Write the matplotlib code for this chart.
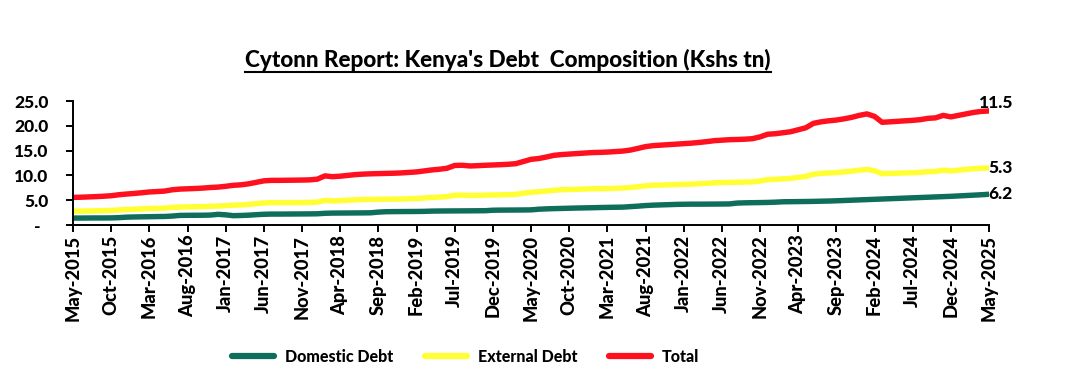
import matplotlib
matplotlib.use("Agg")
import matplotlib.pyplot as plt
from matplotlib.lines import Line2D
import numpy as np
import pandas as pd

# ---- data (Kshs tn), monthly May-2015 .. May-2025 ----
months = pd.date_range("2015-05-01", "2025-05-01", freq="MS")
tick_labels = [d.strftime("%b-%Y") for d in months[::5]]

domestic = [1.40, 1.40, 1.41, 1.42, 1.42, 1.43, 1.48,
            1.58, 1.62, 1.65, 1.67, 1.70, 1.72, 1.80,
            1.93, 1.95, 1.96, 1.97, 2.00,
            2.15, 2.05, 1.88, 1.92, 1.98,
            2.08, 2.16, 2.20, 2.20, 2.21, 2.22, 2.23, 2.24, 2.26,
            2.36, 2.40, 2.41, 2.42, 2.43, 2.44, 2.46,
            2.60, 2.68, 2.70, 2.71, 2.72, 2.73, 2.75,
            2.80, 2.82, 2.83, 2.84, 2.85, 2.86, 2.87, 2.88,
            2.98, 3.00, 3.01, 3.02, 3.03, 3.05,
            3.18, 3.25, 3.30, 3.34, 3.38, 3.42, 3.45, 3.48,
            3.52, 3.55, 3.58, 3.60,
            3.70, 3.80, 3.92, 4.00, 4.05, 4.10, 4.15, 4.18,
            4.20, 4.20, 4.21, 4.22, 4.23, 4.25,
            4.42, 4.47, 4.50, 4.52, 4.55, 4.60,
            4.68, 4.70, 4.72, 4.74, 4.76, 4.80, 4.83,
            4.88, 4.94, 5.00, 5.06, 5.12, 5.18, 5.24, 5.30, 5.36, 5.42,
            5.48, 5.54, 5.60, 5.66, 5.72, 5.78, 5.86, 5.94, 6.02, 6.10, 6.20]

external = [1.38, 1.40, 1.42, 1.44, 1.48, 1.52, 1.57, 1.54, 1.56, 1.60,
            1.66, 1.67, 1.70, 1.75, 1.69, 1.70, 1.72, 1.75, 1.78, 1.67,
            1.85, 2.12, 2.13, 2.17, 2.22, 2.29, 2.30, 2.30, 2.30, 2.30,
            2.30, 2.31, 2.36, 2.59, 2.47, 2.51, 2.58, 2.65, 2.69, 2.70,
            2.58, 2.52, 2.52, 2.54, 2.58, 2.62, 2.70, 2.75, 2.80, 2.89,
            3.16, 3.17, 3.09, 3.11, 3.14, 3.07, 3.08, 3.11, 3.16, 3.37,
            3.57, 3.52, 3.60, 3.72, 3.76, 3.77, 3.78, 3.80, 3.82, 3.80,
            3.80, 3.82, 3.85, 3.85, 3.92, 3.98, 4.00, 4.00, 4.00, 4.00,
            4.02, 4.05, 4.12, 4.19, 4.28, 4.32, 4.35, 4.20, 4.18, 4.20,
            4.36, 4.60, 4.60, 4.62, 4.70, 4.88, 5.06, 5.49, 5.60, 5.67,
            5.70, 5.76, 5.85, 5.99, 6.08, 5.77, 5.11, 5.10, 5.09, 5.08,
            5.07, 5.08, 5.15, 5.14, 5.33, 5.12, 5.19, 5.26, 5.33, 5.35,
            5.30]

total = [2.78, 2.80, 2.83, 2.86, 2.90, 2.95, 3.05, 3.12, 3.18, 3.25,
         3.33, 3.37, 3.42, 3.55, 3.62, 3.65, 3.68, 3.72, 3.78, 3.82,
         3.90, 4.00, 4.05, 4.15, 4.30, 4.45, 4.50, 4.50, 4.51, 4.52,
         4.53, 4.55, 4.62, 4.95, 4.87, 4.92, 5.00, 5.08, 5.13, 5.16,
         5.18, 5.20, 5.22, 5.25, 5.30, 5.35, 5.45, 5.55, 5.62, 5.72,
         6.00, 6.02, 5.95, 5.98, 6.02, 6.05, 6.08, 6.12, 6.18, 6.40,
         6.62, 6.70, 6.85, 7.02, 7.10, 7.15, 7.20, 7.25, 7.30, 7.32,
         7.35, 7.40, 7.45, 7.55, 7.72, 7.90, 8.00, 8.05, 8.10, 8.15,
         8.20, 8.25, 8.32, 8.40, 8.50, 8.55, 8.60, 8.62, 8.65, 8.70,
         8.88, 9.15, 9.20, 9.30, 9.40, 9.60, 9.80, 10.25, 10.40, 10.50,
         10.58, 10.70, 10.85, 11.05, 11.20, 10.95, 10.35, 10.40, 10.45, 10.50,
         10.55, 10.62, 10.75, 10.80, 11.05, 10.90, 11.05, 11.20, 11.35, 11.45,
         11.50]

series_names = ["Domestic Debt", "External Debt", "Total"]
colors = ["#0E6E5B", "#FFFF33", "#FF101E"]

# ---- plot ----
plt.rcParams["font.family"] = ["Lato", "DejaVu Sans"]
W8 = 900
plt.rcParams["font.weight"] = W8

fig = plt.figure(figsize=(10.78, 3.92), dpi=100)
ax = fig.add_axes([73 / 1078, 1 - 225 / 392, (989 - 73) / 1078, 124 / 392])

x = np.arange(len(months))
data = np.vstack([domestic, external, total])
stacked = np.cumsum(data, axis=0)  # Excel stacked line chart

lines = []
for yv, c, name in zip(stacked, colors, series_names):
    ln, = ax.plot(x, yv, color=c, lw=3.9, solid_capstyle="round",
                  solid_joinstyle="round", label=name)
    lines.append(ln)

lab_off = [(-1, 0, "left", "center"), (-1, 0, "left", "center"), (7, 0, "center", "bottom")]
for vals, yv, (dx, dy, ha, va) in zip(data, stacked, lab_off):
    ax.annotate(f"{vals[-1]:.1f}", xy=(x[-1], yv[-1]), xytext=(dx, dy),
                textcoords="offset pixels", ha=ha, va=va,
                fontsize=12.5, fontweight=W8, color="black")

ax.set_xlim(0, len(months) - 1)
ax.set_ylim(0, 25)
ax.set_yticks([0, 5, 10, 15, 20, 25])
ax.set_yticklabels(["-  ", "5.0", "10.0", "15.0", "20.0", "25.0"])
ax.set_xticks(x[::5])
ax.set_xticklabels(tick_labels, rotation=90)

for s in ["top", "right"]:
    ax.spines[s].set_visible(False)
for s in ["left", "bottom"]:
    ax.spines[s].set_linewidth(1.4)
    ax.spines[s].set_color("black")

ax.tick_params(axis="y", direction="out", length=5, width=1.4, labelsize=12.5, pad=12.6)
ax.tick_params(axis="x", direction="out", length=5, width=1.4, labelsize=13.2, pad=2)
for t in ax.get_xticklabels() + ax.get_yticklabels():
    t.set_fontweight(W8)

title = fig.text(508 / 1078, 1 - 60 / 392, "Cytonn Report: Kenya's Debt  Composition (Kshs tn)",
                 ha="center", va="center", fontsize=16.2, fontweight=W8)
fig.canvas.draw()
bb = title.get_window_extent(renderer=fig.canvas.get_renderer())
W, H = fig.bbox.width, fig.bbox.height
uy = (bb.y0 - 1) / H
fig.add_artist(Line2D([bb.x0 / W, bb.x1 / W], [uy, uy], color="black", lw=1.5,
                      transform=fig.transFigure))

leg = fig.legend(handles=lines, labels=series_names, loc="center",
                 bbox_to_anchor=(466 / 1078, 1 - 357 / 392), ncol=3, frameon=False,
                 prop={"weight": W8, "size": 11.5}, handlelength=2.6,
                 columnspacing=2.0, handletextpad=0.7)
for h in leg.get_lines():
    h.set_linewidth(4.5)

fig.savefig("out.png", dpi=100)
